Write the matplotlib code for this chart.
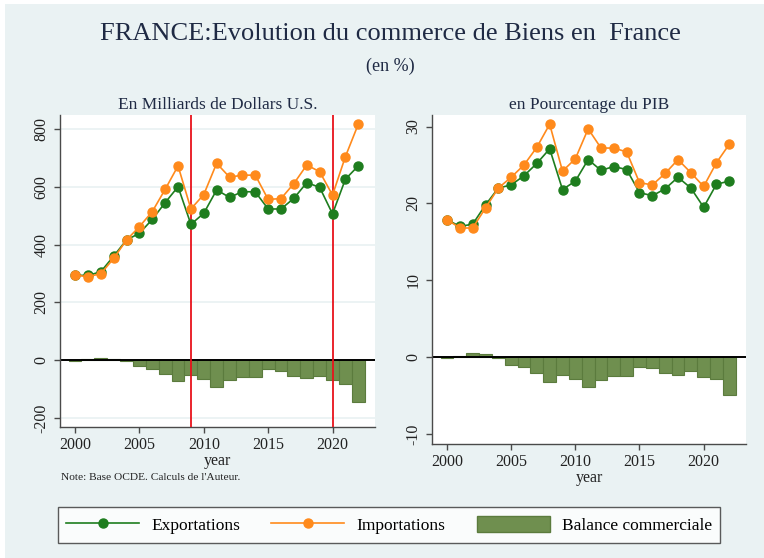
import matplotlib

matplotlib.use("Agg")
import matplotlib.pyplot as plt
from matplotlib.lines import Line2D
from matplotlib.patches import Patch, Rectangle

plt.rcParams["font.family"] = ["Liberation Serif", "DejaVu Serif"]
plt.rcParams["axes.unicode_minus"] = False

years = list(range(2000, 2023))

# En milliards de dollars
exp_usd = [294, 293, 306, 360, 416, 439, 487, 545, 600, 470, 508, 589, 563,
           583, 582, 523, 523, 560, 614, 598, 506, 626, 672]
imp_usd = [294, 289, 299, 352, 416, 462, 514, 591, 672, 523, 573, 681, 633,
           640, 640, 556, 559, 611, 675, 652, 571, 704, 816]
bal_usd = [-2, 3, 8, 5, -2, -20, -29, -46, -72, -52, -66, -91, -70,
           -57, -57, -32, -37, -54, -62, -54, -68, -81, -146]

# En pourcentage du PIB
exp_pib = [17.9, 17.0, 17.3, 19.8, 22.0, 22.4, 23.6, 25.2, 27.1, 21.8, 22.9,
           25.7, 24.3, 24.8, 24.4, 21.4, 21.0, 21.9, 23.4, 22.0, 19.5, 22.5, 22.9]
imp_pib = [17.9, 16.8, 16.8, 19.4, 22.0, 23.4, 25.0, 27.3, 30.3, 24.2, 25.8,
           29.7, 27.2, 27.2, 26.7, 22.7, 22.4, 23.9, 25.7, 24.0, 22.2, 25.3, 27.7]
bal_pib = [-0.1, 0.2, 0.5, 0.4, -0.1, -1.0, -1.3, -2.1, -3.2, -2.3, -2.9,
           -3.9, -3.0, -2.5, -2.4, -1.3, -1.4, -2.0, -2.3, -1.8, -2.6, -2.8, -4.9]

crisis_years = [2009, 2020]

BG = "#eaf2f3"
C_EXP = "#1e7d1e"
C_IMP = "#ff8a1c"
C_BAL = "#6f8f4f"
C_BAL_EDGE = "#5b7b3d"
SPINE = "#4a4a4a"
TXT = "#1f2a44"

W, H = 764, 558
fig = plt.figure(figsize=(W / 100, H / 100), dpi=100, facecolor="white")
fig.patches.append(Rectangle((5 / W, 0), 1, (H - 4) / H, transform=fig.transFigure,
                             facecolor=BG, edgecolor="none", zorder=-10))


def px_axes(x0, y0, x1, y1):
    return fig.add_axes([x0 / W, (H - y1) / H, (x1 - x0) / W, (y1 - y0) / H])


def draw_panel(ax, exp, imp, bal, ylim, yticks, title, grid=True, vlines=()):
    ax.set_facecolor("white")
    if grid:
        for t in yticks:
            ax.axhline(t, color=BG, lw=1.3, zorder=0)
    ax.bar(years, bal, width=1.0, color=C_BAL, edgecolor=C_BAL_EDGE, lw=0.8, zorder=1)
    ax.axhline(0, color="black", lw=1.4, zorder=2)
    for v in vlines:
        ax.axvline(v, color="#e8121b", lw=1.3, zorder=3)
    ax.plot(years, exp, color=C_EXP, lw=1.2, marker="o", ms=6.5, mec=C_EXP, zorder=4)
    ax.plot(years, imp, color=C_IMP, lw=1.2, marker="o", ms=6.5, mec=C_IMP, zorder=5)
    ax.set_xlim(1998.83, 2023.3)
    ax.set_ylim(*ylim)
    ax.set_yticks(yticks)
    ax.set_xticks(range(2000, 2021, 5))
    for s in ("top", "right"):
        ax.spines[s].set_visible(False)
    for s in ("left", "bottom"):
        ax.spines[s].set_color(SPINE)
        ax.spines[s].set_linewidth(1.0)
    ax.tick_params(colors=SPINE, labelcolor="#222222", labelsize=11.5, length=4, width=1.0)
    for lab in ax.get_yticklabels():
        lab.set_rotation(90)
        lab.set_va("center")
    ax.set_xlabel("year", fontsize=11.5, color="#222222", labelpad=0)
    ax.set_title(title, fontsize=12.5, color=TXT, pad=4)


ax1 = px_axes(60, 115, 375, 427)
draw_panel(ax1, exp_usd, imp_usd, bal_usd, (-231, 848), [-200, 0, 200, 400, 600, 800],
           "En Milliards de Dollars U.S.", grid=True, vlines=crisis_years)

ax2 = px_axes(432, 115, 746, 444)
draw_panel(ax2, exp_pib, imp_pib, bal_pib, (-11.3, 31.5), [-10, 0, 10, 20, 30],
           "en Pourcentage du PIB", grid=False)

fig.text(390 / W, 1 - 34 / H, "FRANCE:Evolution du commerce de Biens en  France",
         ha="center", va="center", fontsize=19, color=TXT)
fig.text(390 / W, 1 - 66 / H, "(en %)", ha="center", va="center", fontsize=13,
         color=TXT)
fig.text(61 / W, 1 - 478 / H, "Note: Base OCDE. Calculs de l'Auteur.",
         ha="left", va="center", fontsize=8.2, color="#222222")

handles = [
    Line2D([], [], color=C_EXP, lw=1.2, marker="o", ms=6.5),
    Line2D([], [], color=C_IMP, lw=1.2, marker="o", ms=6.5),
    Patch(facecolor=C_BAL, edgecolor=C_BAL_EDGE),
]
leg = fig.legend(handles, ["Exportations", "Importations", "Balance commerciale"],
                 loc="center", bbox_to_anchor=(389 / W, 1 - 525 / H), ncol=3,
                 fontsize=12.5, frameon=True, fancybox=False, edgecolor="#333333",
                 handlelength=4.2, handleheight=1.05, handletextpad=0.7,
                 columnspacing=1.8, borderpad=0.5)
leg.get_frame().set_linewidth(1.0)

fig.savefig("out.png", dpi=100, facecolor=fig.get_facecolor())
